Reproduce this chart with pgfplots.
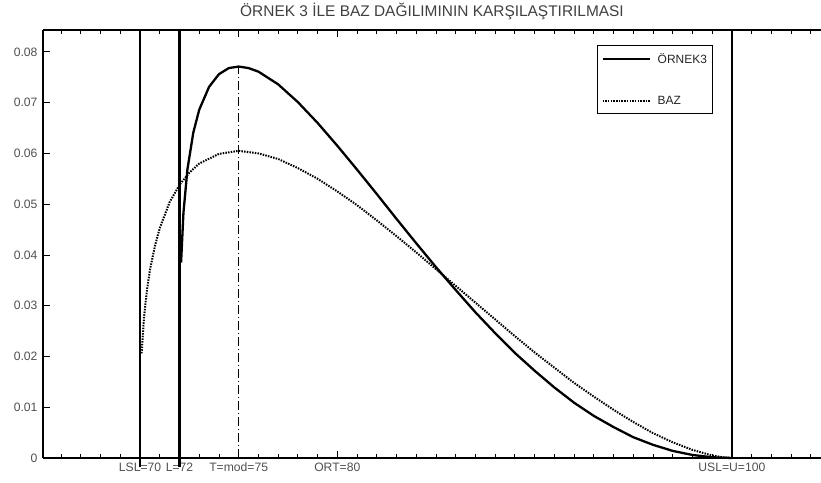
\documentclass[border=0pt]{standalone}
\usepackage{fontspec}
\setmainfont{Liberation Sans}
\usepackage{pgfplots}
\pgfplotsset{compat=1.18}
\definecolor{lbl}{HTML}{505050}
\definecolor{ttl}{HTML}{404040}

\begin{document}
\begin{tikzpicture}
\begin{axis}[
    name=main,
    scale only axis,
    width=778bp, height=428bp,
    xmin=65.08, xmax=104.52,
    ymin=0, ymax=0.0843,
    clip=false,
    axis x line=box, axis y line=left,
    axis line style={line width=1.1bp, -},
    tick style={black, line width=0.8bp},
    tick align=inside,
    xtick={70,72,75,80,100},
    xticklabels={LSL=70, L=72, T=mod=75, ORT=80, USL=U=100},
    minor xtick={66,67,...,104},
    major tick length=7bp, minor tick length=4bp,
    ytick={0,0.01,0.02,0.03,0.04,0.05,0.06,0.07,0.08},
    yticklabels={0,0.01,0.02,0.03,0.04,0.05,0.06,0.07,0.08},
    scaled y ticks=false,
    /pgf/number format/assume math mode=true,
    ticklabel style={font=\fontsize{12.2}{14}\selectfont, text=lbl},
    yticklabel style={xshift=-2bp},
    xticklabel style={yshift=-1bp},
    title={ÖRNEK 3 İLE BAZ DAĞILIMININ KARŞILAŞTIRILMASI},
    title style={at={(0.5,1)}, anchor=base, yshift=8bp,
        font=\fontsize{15.5}{17}\selectfont, text=ttl},
    legend style={at={(0.712,0.965)}, anchor=north west, draw=black, line width=1bp,
        font=\fontsize{12}{14}\selectfont, text=black!85, row sep=27bp, column sep=5bp,
        inner xsep=4bp, inner ysep=6bp},
    legend cell align=left,
    legend image code/.code={\draw[#1] (0bp,0bp) -- (47bp,0bp);},
]
% spec limits
\addplot[black, line width=2.3bp, forget plot] coordinates {(70,-0.0017)(70,0.0843)};
\addplot[black, line width=2.3bp, forget plot] coordinates {(72,-0.0017)(72,0.0843)};
\addplot[black, line width=2.3bp, forget plot] coordinates {(100,0)(100,0.0843)};
% target / mode
\addplot[black, line width=0.8bp, dash pattern=on 9bp off 3bp on 1bp off 3bp, forget plot]
    coordinates {(75,0)(75,0.0771)};

% ORNEK 3
\addplot[black, line width=2.3bp, line join=round] coordinates {
    (72.08,0.0385)(72.2,0.0483)(72.4,0.0568)(72.7,0.0641)(73,0.0686)
    (73.5,0.0731)(74,0.0756)(74.5,0.0768)(75,0.0771)(75.5,0.0768)
    (76,0.0761)(77,0.0736)(78,0.0701)(79,0.0660)(80,0.0615)
    (81,0.0568)(82,0.0520)(83,0.0471)(84,0.0423)(85,0.0376)
    (86,0.0331)(87,0.0287)(88,0.0246)(89,0.0207)(90,0.0172)
    (91,0.0139)(92,0.0109)(93,0.0083)(94,0.0061)(95,0.0041)
    (96,0.0026)(97,0.0014)(98,0.0006)(99,0.00014)(100,0)
};
% BAZ
\addplot[black, line width=2bp, dash pattern=on 1.5bp off 1.2bp] coordinates {
    (70.08,0.0206)(70.2,0.0277)(70.35,0.0331)(70.5,0.0370)(70.75,0.0417)
    (71,0.0453)(71.5,0.0504)(72,0.0538)(72.5,0.0562)(73,0.0580)
    (74,0.0599)(75,0.0605)(76,0.0600)(77,0.0589)(78,0.0571)
    (79,0.0550)(80,0.0525)(81,0.0498)(82,0.0468)(83,0.0437)
    (84,0.0405)(85,0.0372)(86,0.0339)(87,0.0306)(88,0.0273)
    (89,0.0240)(90,0.0208)(91,0.0178)(92,0.0148)(93,0.0121)
    (94,0.0095)(95,0.0071)(96,0.0049)(97,0.0031)(98,0.0016)
    (99,0.0005)(99.5,0.00016)(100,0)
};
\legend{ÖRNEK3, BAZ}
\end{axis}
\pgfresetboundingbox
\path[use as bounding box] ([shift={(-43bp,-25bp)}]main.south west) rectangle ([shift={(0bp,30bp)}]main.north east);
\end{tikzpicture}
\end{document}
